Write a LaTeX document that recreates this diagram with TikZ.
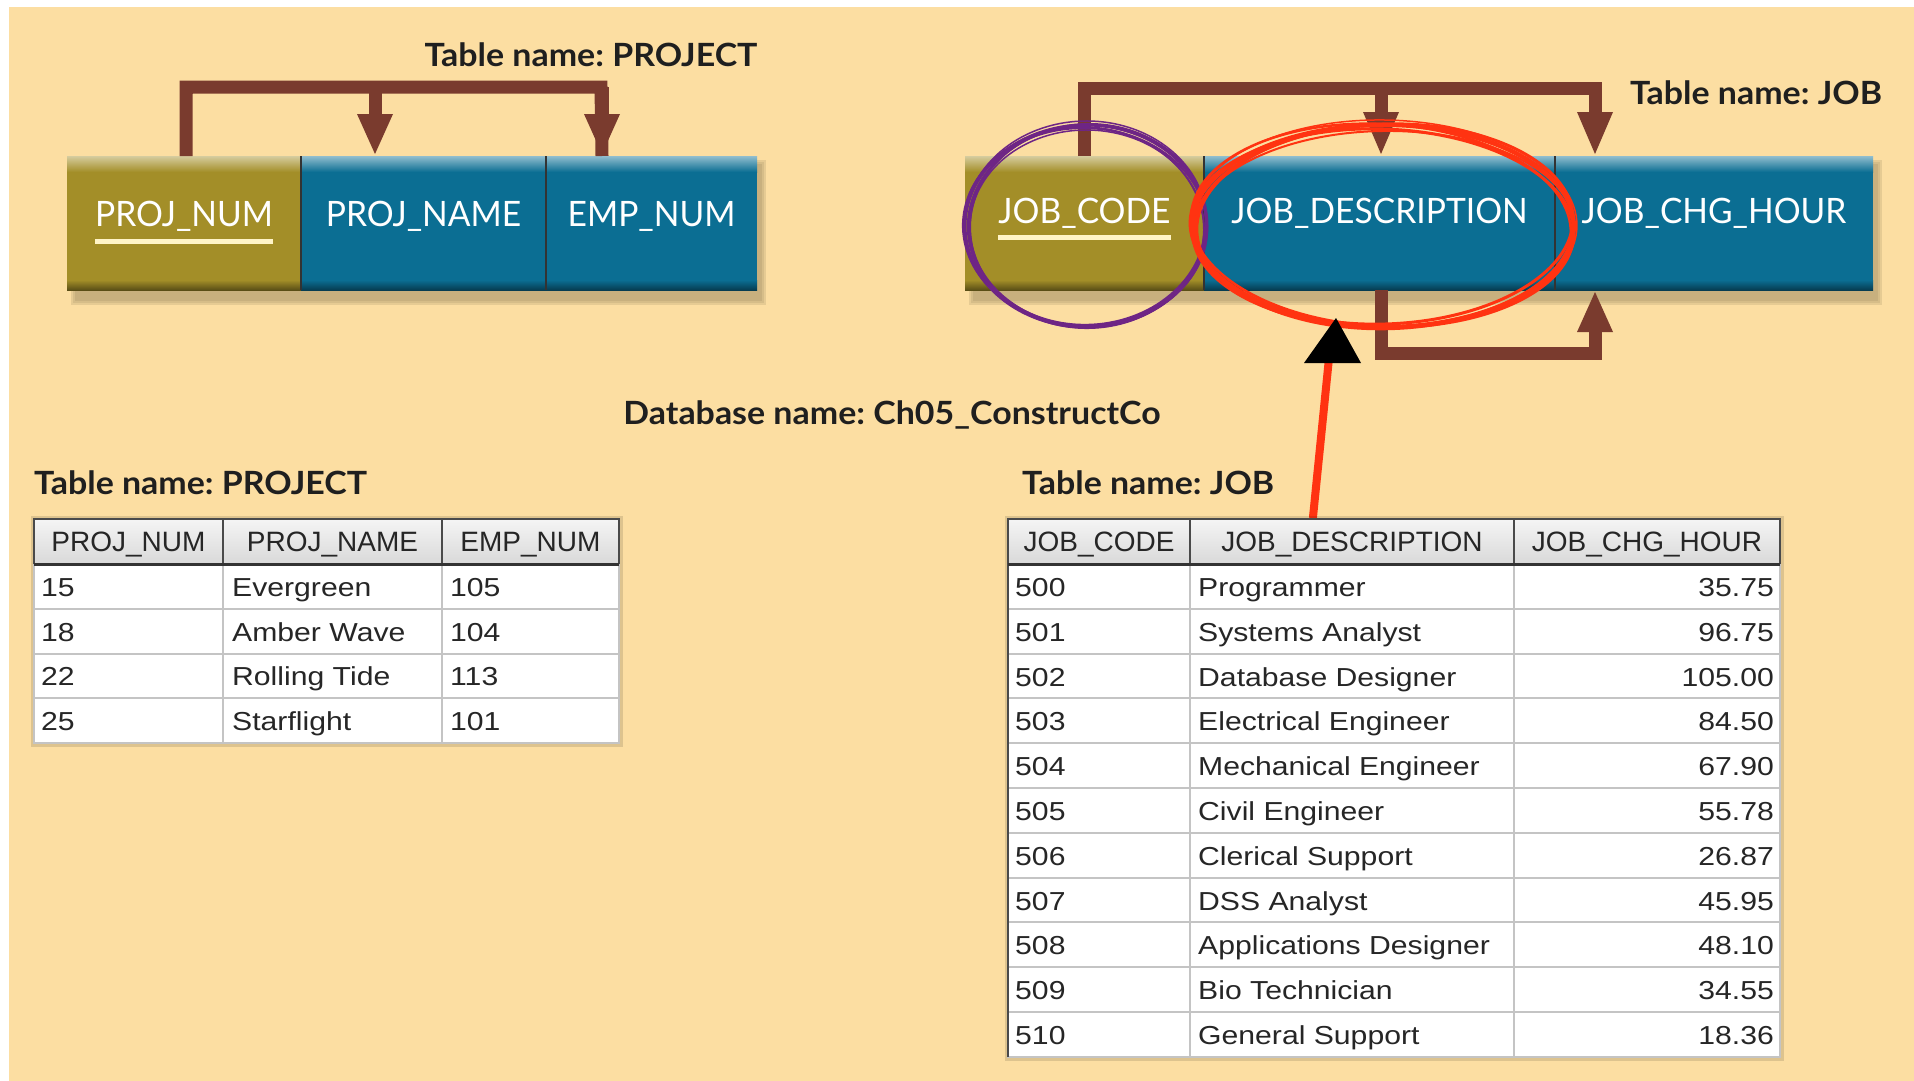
\documentclass[tikz,border=0pt]{standalone}
\usepackage{fontspec}
\usetikzlibrary{arrows.meta,shapes.geometric,calc}
\setmainfont{Liberation Sans}
\newfontfamily\labelfont[FakeStretch=1.06]{Lato}
\newfontfamily\barfont[FakeStretch=0.96]{Lato}
\newfontfamily\headfont{Liberation Sans}
\newfontfamily\bodyfont[FakeStretch=1.16]{Liberation Sans}

\definecolor{bgbeige}{HTML}{FCDEA2}
\definecolor{linkbrown}{HTML}{7A3B2E}
\definecolor{keyolive}{HTML}{A38E28}
\definecolor{fieldblue}{HTML}{0B6E93}
\definecolor{keyline}{HTML}{FFF4C6}
\definecolor{ringred}{HTML}{FF3311}
\definecolor{ringpurple}{HTML}{6E2585}
\definecolor{shadowtone}{HTML}{A89468}
\definecolor{gridline}{HTML}{C4C4C4}
\definecolor{headline}{HTML}{4A4A4A}

\begin{document}
\begin{tikzpicture}[x=1pt,y=-1pt,
  caption/.style={font={\labelfont\bfseries\fontsize{32}{36}\selectfont}, text=black!88, inner sep=0},
  barcell/.style={draw=none, fill=#1, minimum height=134, inner sep=0, outer sep=0, anchor=north west},
  bartext/.style={font={\barfont\fontsize{35}{40}\selectfont}, text=white, inner sep=0},
  link/.style={draw=linkbrown, line width=13, line join=miter},
  headtext/.style={font={\headfont\fontsize{28}{32}\selectfont}, text=black!85, inner sep=0, anchor=base},
  bodytext/.style={font={\bodyfont\fontsize{26}{30}\selectfont}, text=black!85, inner sep=0},
]
\useasboundingbox (0,0) rectangle (1914,1081);
\fill[white] (0,0) rectangle (1914,1081);
\fill[bgbeige] (9,7) rectangle (1914,1081);

% ---------- bar shadows ----------
\foreach \o/\a in {0/0.25,2/0.25,4/0.3}{
  \fill[shadowtone, opacity=\a] (71+\o,160+\o) rectangle (766-\o,305-\o);
  \fill[shadowtone, opacity=\a] (969+\o,160+\o) rectangle (1882-\o,305-\o);
}

% ---------- PROJECT structure bar ----------
\node[barcell=keyolive,  minimum width=234] (pnum)  at (67,156)  {};
\node[barcell=fieldblue, minimum width=245] (pname) at (301,156) {};
\node[barcell=fieldblue, minimum width=211] (pemp)  at (546,156) {};

% ---------- JOB structure bar ----------
\node[barcell=keyolive,  minimum width=239] (jcode) at (965,156)  {};
\node[barcell=fieldblue, minimum width=351] (jdesc) at (1204,156) {};
\node[barcell=fieldblue, minimum width=318] (jchg)  at (1555,156) {};

% bevel on each bar cell
\foreach \c/\col in {pnum/keyolive,pname/fieldblue,pemp/fieldblue,jcode/keyolive,jdesc/fieldblue,jchg/fieldblue}{
  \shade[top color=\col!45!white, bottom color=\col] (\c.north west) rectangle ([yshift=-16pt]\c.north east);
  \shade[top color=\col, bottom color=\col!55!black] ([yshift=10pt]\c.south west) rectangle (\c.south east);
}
\foreach \c in {pnum,pname,jcode,jdesc}{
  \draw[black!80, line width=2.5] (\c.north east) -- (\c.south east);
}

% field names
\node[bartext] (pnumtxt)  at ([yshift=7pt]pnum.center)  {PROJ\_NUM};
\node[bartext] (pnametxt) at ([yshift=7pt]pname.center) {PROJ\_NAME};
\node[bartext] (pemptxt)  at ([yshift=7pt]pemp.center)  {EMP\_NUM};
\node[bartext] (jcodetxt) at ([yshift=10pt]jcode.center) {JOB\_CODE};
\node[bartext] (jdesctxt) at ([yshift=10pt]jdesc.center) {JOB\_DESCRIPTION};
\node[bartext] (jchgtxt)  at ([yshift=10pt]jchg.center)  {JOB\_CHG\_HOUR};

% primary key underlines
\draw[keyline, line width=5] ([yshift=-15pt]pnumtxt.base west) -- ([yshift=-15pt]pnumtxt.base east);
\draw[keyline, line width=5] ([yshift=-14pt]jcodetxt.base west) -- ([yshift=-14pt]jcodetxt.base east);

% ---------- dependency arrows ----------
\draw[link] ([xshift=2pt]pnum.north) |- (601,87) -- ([xshift=-49.5pt]pemp.north) ;
\draw[link] (375,87) -- (375,114);
\fill[linkbrown] (357,114) -- (393,114) -- (375,154) -- cycle;
\fill[linkbrown] (584,114) -- (620,114) -- (602,154) -- cycle;
\draw[link] (602,87) -- (602,114);
\draw[link] (186,93.5) -- (186,87);

\draw[link] (jcode.north) |- (1595,88) -- (1595,114);
\draw[link] (1381,88) -- (1381,114);
\fill[linkbrown] (1363,112) -- (1399,112) -- (1381,154) -- cycle;
\fill[linkbrown] (1577,112) -- (1613,112) -- (1595,154) -- cycle;

\draw[link] ([xshift=1.5pt]jdesc.south) |- (1595,353) -- (1595,330);
\fill[linkbrown] (1577,332) -- (1613,332) -- (1595,292) -- cycle;

% ---------- captions ----------
\node[caption] (toptitleP) at (591,55) {Table name:\ PROJECT};
\node[caption] (toptitleJ) at (1756,93) {Table name:\ JOB};
\node[caption] (dbname) at (892,415) {Database name:\ Ch05\_ConstructCo};
\node[caption, anchor=west] (projcap) at (34,483) {Table name:\ PROJECT};
\node[caption, anchor=west] (jobcap) at (1022,483) {Table name:\ JOB};

% ---------- highlight rings (sketched in several strokes) ----------
\foreach \dx/\dy/\rx/\ry/\r/\w in {0/0/121/101/0/3, 1/-1/119/100/3/2.5, -1/1/122/99/-2/2.2, 2/0/118/102/2/2, -2/1/120/100/-4/1.8, 0/-2/121/103/1/1.5, 1/2/117/98/-1/1.5}{
  \draw[ringpurple, line width=\w] (1086+\dx,226+\dy) ellipse [x radius=\rx, y radius=\ry, rotate=\r];
}
\node[ellipse, minimum width=382, minimum height=202, inner sep=0] (ring) at (1383,226) {};
\foreach \dx/\dy/\rx/\ry/\r/\w in {0/0/191/101/0/4, 1/-2/189/100/2/3, -1/2/192/99/-2/3, 2/1/188/102/1/2.5, -2/-1/190/101/-3/2.5, 0/3/191/98/1/2, 1/-3/193/103/-1/1.5}{
  \draw[ringred, line width=\w] (1383+\dx,226+\dy) ellipse [x radius=\rx, y radius=\ry, rotate=\r];
}

% pointer from the JOB table to the ring
\coordinate (pointer) at (1313,517);
\draw[ringred, line width=8, line cap=round] (pointer) -- (1329,358);
\fill[black] (1336,318) -- (1361,363) -- (1304,363) -- cycle;

% table shadows
\fill[black, opacity=0.12] (31,516) rectangle (623,747);
\fill[black, opacity=0.12] (1005,516) rectangle (1784,1061);

% ---------- PROJECT table ----------
\fill[white] (34,564) rectangle (619,743);
\shade[top color=white!96!black, bottom color=white!85!black] (34,519) rectangle (619,564);
\foreach \y in {608.75,653.5,698.25}{ \draw[gridline, line width=2] (34,\y) -- (619,\y); }
\foreach \x in {223,442}{ \draw[gridline, line width=2] (\x,564) -- (\x,743); \draw[headline, line width=2] (\x,519) -- (\x,564); }
\draw[gridline, line width=2] (34,564) rectangle (619,743);
\draw[headline, line width=2] (34,564) |- (619,519) -- (619,564);
\draw[black!80, line width=3] (34,564) -- (619,564);

\node[headtext] (ph1) at (128.5,551) {PROJ\_NUM};
\node[headtext] (ph2) at (332.5,551) {PROJ\_NAME};
\node[headtext] (ph3) at (530.5,551) {EMP\_NUM};
\foreach \a/\b/\c [count=\i] in {15/Evergreen/105, 18/Amber Wave/104, 22/Rolling Tide/113, 25/Starflight/101}{
  \pgfmathsetmacro\yb{564+(\i-0.5)*44.75+10}
  \node[bodytext, anchor=base west] (p-\i-1) at (41,\yb) {\a};
  \node[bodytext, anchor=base west] (p-\i-2) at (232,\yb) {\b};
  \node[bodytext, anchor=base west] (p-\i-3) at (450,\yb) {\c};
}

% ---------- JOB table ----------
\fill[white] (1008,564) rectangle (1780,1057);
\shade[top color=white!96!black, bottom color=white!85!black] (1008,519) rectangle (1780,564);
\foreach \i in {1,...,10}{ \draw[gridline, line width=2] (1008,564+\i*44.8) -- (1780,564+\i*44.8); }
\foreach \x in {1190,1514}{ \draw[gridline, line width=2] (\x,564) -- (\x,1057); \draw[headline, line width=2] (\x,519) -- (\x,564); }
\draw[gridline, line width=2] (1008,564) rectangle (1780,1057);
\draw[headline, line width=2] (1008,1057) |- (1780,519) -- (1780,564);
\draw[black!80, line width=3] (1008,564) -- (1780,564);

\node[headtext] (jh1) at (1099,551) {JOB\_CODE};
\node[headtext] (jh2) at (1352,551) {JOB\_DESCRIPTION};
\node[headtext] (jh3) at (1647,551) {JOB\_CHG\_HOUR};
\foreach \a/\b/\c [count=\i] in {500/Programmer/35.75, 501/Systems Analyst/96.75, 502/Database Designer/105.00, 503/Electrical Engineer/84.50, 504/Mechanical Engineer/67.90, 505/Civil Engineer/55.78, 506/Clerical Support/26.87, 507/DSS Analyst/45.95, 508/Applications Designer/48.10, 509/Bio Technician/34.55, 510/General Support/18.36}{
  \pgfmathsetmacro\yb{564+(\i-0.5)*44.8+10}
  \node[bodytext, anchor=base west] (j-\i-1) at (1015,\yb) {\a};
  \node[bodytext, anchor=base west] (j-\i-2) at (1198,\yb) {\b};
  \node[bodytext, anchor=base east] (j-\i-3) at (1774,\yb) {\c};
}
\end{tikzpicture}
\end{document}
